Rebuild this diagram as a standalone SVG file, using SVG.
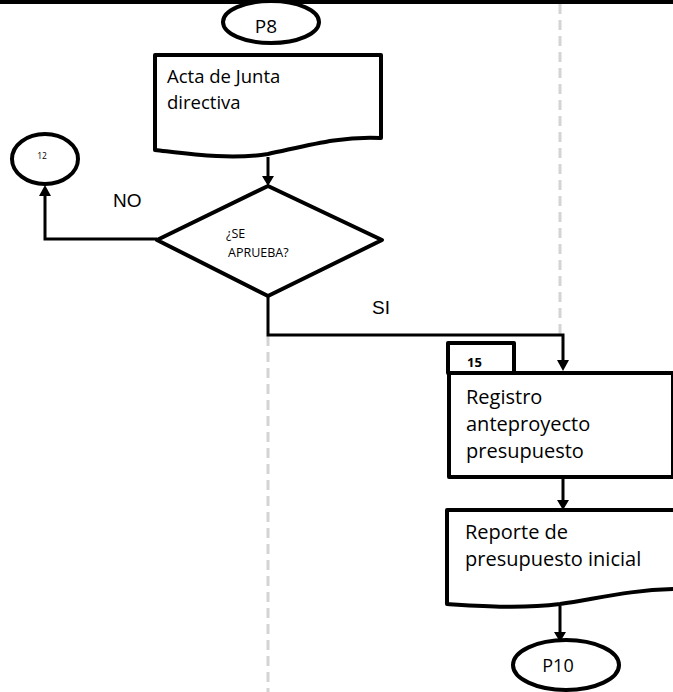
<svg xmlns="http://www.w3.org/2000/svg" width="673" height="692" viewBox="0 0 673 692">
<defs>
<style>
.sh{fill:#fff;stroke:#000;stroke-width:4;stroke-linejoin:round}
.cn{fill:none;stroke:#000;stroke-width:3}
.lane{fill:none;stroke:#d4d4d4;stroke-width:3;stroke-dasharray:10 6}
.t{font-family:"Open Sans",Lato,"Liberation Sans",sans-serif;fill:#000}
.a{font-family:"Liberation Sans",Arial,sans-serif;fill:#000}
</style>
</defs>
<rect width="673" height="692" fill="#fff"/>
<line x1="0" y1="2" x2="673" y2="2" stroke="#000" stroke-width="4"/>
<line class="lane" x1="560" y1="4" x2="560" y2="334"/>
<line class="lane" x1="268" y1="336" x2="268" y2="692"/>
<g id="connectors">
<path class="cn" d="M268,157 V176"/>
<path d="M262,176 L274,176 L268,186 Z" fill="#000"/>
<path class="cn" d="M157,239 H45 V196"/>
<path d="M39,196 L51,196 L45,185 Z" fill="#000"/>
<path class="cn" d="M268,296 V335 H563 V360"/>
<path d="M557,360 L569,360 L563,371 Z" fill="#000"/>
<path class="cn" d="M563,477 V500"/>
<path d="M557,500 L569,500 L563,510 Z" fill="#000"/>
<path class="cn" d="M560,606 V632"/>
<path d="M554,632 L566,632 L560,642 Z" fill="#000"/>
</g>
<g id="p8">
<ellipse class="sh" cx="271" cy="22" rx="48" ry="21"/>
<text class="t" x="266" y="33" font-size="19" text-anchor="middle">P8</text>
</g>
<g id="acta">
<path class="sh" d="M155,55 H381 V138 C340,136 310,145 268,154 C230,160 190,154 155,150 Z"/>
<text class="t" x="167" y="83" font-size="18.5">Acta de Junta</text>
<text class="t" x="167" y="109" font-size="18.5">directiva</text>
</g>
<g id="c12">
<ellipse class="sh" cx="45" cy="159" rx="33" ry="25"/>
<text class="t" x="42" y="159" font-size="8.5" text-anchor="middle">12</text>
</g>
<g id="decision">
<path class="sh" d="M268,186 L382,240 L268,296 L157,240 Z"/>
<text class="t" x="226" y="238" font-size="12.5">¿SE</text>
<text class="t" x="228" y="257" font-size="12.5">APRUEBA?</text>
</g>
<text class="a" x="113" y="207" font-size="19">NO</text>
<text class="a" x="372" y="314" font-size="19">SI</text>
<g id="registro">
<rect class="sh" x="448" y="343" width="66" height="30"/>
<text class="t" x="467" y="367" font-size="13" font-weight="bold">15</text>
<rect class="sh" x="449" y="373" width="224" height="104"/>
<text class="t" x="466" y="404" font-size="20">Registro</text>
<text class="t" x="466" y="431" font-size="20">anteproyecto</text>
<text class="t" x="466" y="458" font-size="20">presupuesto</text>
</g>
<g id="reporte">
<path class="sh" d="M447,510 H675 V589 C630,590 600,598 560,604 C520,609 480,606 447,604 Z"/>
<text class="t" x="465" y="539" font-size="20">Reporte de</text>
<text class="t" x="465" y="566" font-size="20">presupuesto inicial</text>
</g>
<g id="p10">
<ellipse class="sh" cx="566" cy="665" rx="53" ry="25"/>
<text class="t" x="558" y="672" font-size="18" text-anchor="middle">P10</text>
</g>
</svg>
